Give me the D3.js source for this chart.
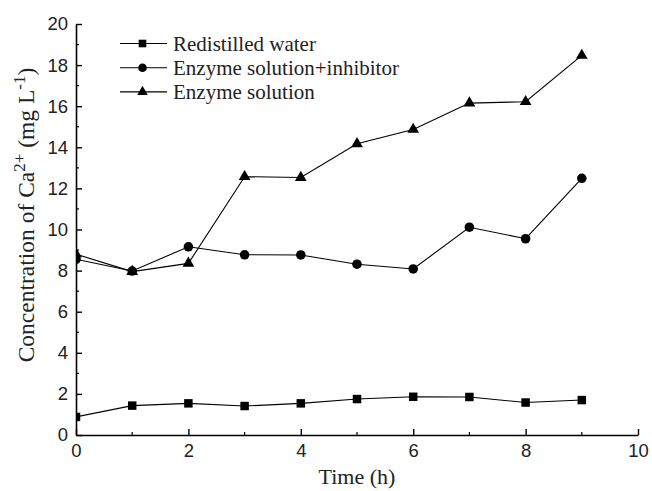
<!DOCTYPE html>
<html><head><meta charset="utf-8">
<script src="https://cdn.jsdelivr.net/npm/d3@7"></script>
<style>body{margin:0;background:#fff}svg{display:block}</style>
</head><body>
<svg id="c" width="652" height="491"></svg>
<script>
const hours = [0,1,2,3,4,5,6,7,8,9];
const water = [0.88,1.43,1.54,1.41,1.54,1.75,1.86,1.85,1.58,1.70];
const inhibitor = [8.55,7.98,9.16,8.77,8.76,8.31,8.08,10.11,9.55,12.49];
const enzyme = [8.8,7.95,8.35,12.57,12.53,14.17,14.87,16.15,16.22,18.47];
const seriesNames = ["Redistilled water","Enzyme solution+inhibitor","Enzyme solution"];
const xTicks = [0,2,4,6,8,10];
const yTicks = [0,2,4,6,8,10,12,14,16,18,20];

const svg = d3.select("#c");
const x = d3.scaleLinear().domain([0,10]).range([76,638]);
const y = d3.scaleLinear().domain([0,20]).range([435,24]);

const series = [
  {name: seriesNames[0], vals: water, sym: d3.symbolSquare, size: 72},
  {name: seriesNames[1], vals: inhibitor, sym: d3.symbolCircle, size: 72},
  {name: seriesNames[2], vals: enzyme, sym: d3.symbolTriangle, size: 60}
];

svg.append("defs").append("clipPath").attr("id","clip")
  .append("rect").attr("x",76).attr("y",0).attr("width",600).attr("height",436);

const plot = svg.append("g").attr("clip-path","url(#clip)");
const line = d3.line().x((d,i)=>x(hours[i])).y(d=>y(d));
series.forEach(s=>{
  plot.append("path").datum(s.vals).attr("d",line)
    .attr("fill","none").attr("stroke","#000").attr("stroke-width",1.1);
  plot.selectAll(null).data(s.vals).enter().append("path")
    .attr("d", d3.symbol().type(s.sym).size(s.size))
    .attr("transform",(d,i)=>`translate(${x(hours[i])},${y(d)})`)
    .attr("fill","#000");
});

// axes
const xAxis = d3.axisBottom(x).tickValues(xTicks).tickSizeInner(-6).tickSizeOuter(0).tickPadding(9);
const gx = svg.append("g").attr("transform","translate(0,435)").call(xAxis);
const yAxis = d3.axisLeft(y).tickValues(yTicks).tickSizeInner(-6).tickSizeOuter(0).tickPadding(8);
const gy = svg.append("g").attr("transform","translate(76,0)").call(yAxis);
[gx,gy].forEach(g=>{
  g.select(".domain").attr("stroke","#000").attr("stroke-width",1.6);
  g.selectAll(".tick line").attr("stroke","#000").attr("stroke-width",1.4);
  g.selectAll(".tick text").attr("font-family","Liberation Sans, Arial, sans-serif")
   .attr("font-size",18.5).attr("fill","#222");
});
// minor ticks
const xMinor = d3.range(1,10,2);
gx.selectAll(".minor").data(xMinor).enter().append("line")
  .attr("x1",d=>x(d)).attr("x2",d=>x(d)).attr("y1",0).attr("y2",-3)
  .attr("stroke","#000").attr("stroke-width",1.2);
const yMinor = d3.range(1,20,2);
gy.selectAll(".minor").data(yMinor).enter().append("line")
  .attr("y1",d=>y(d)).attr("y2",d=>y(d)).attr("x1",0).attr("x2",3)
  .attr("stroke","#000").attr("stroke-width",1.2);

// axis titles
svg.append("text").attr("x",357).attr("y",484).attr("text-anchor","middle")
  .attr("font-family","Liberation Serif, Times New Roman, serif").attr("font-size",22)
  .attr("fill","#222").text("Time (h)");
const yt = svg.append("text").attr("transform","translate(34,215) rotate(-90)")
  .attr("text-anchor","middle").attr("fill","#222")
  .attr("font-family","Liberation Serif, Times New Roman, serif").attr("font-size",23.5);
yt.append("tspan").text("Concentration of Ca");
yt.append("tspan").attr("baseline-shift","super").attr("font-size",17).text("2+");
yt.append("tspan").text(" (mg L");
yt.append("tspan").attr("baseline-shift","super").attr("font-size",17).text("-1");
yt.append("tspan").text(")");

// legend
const lg = svg.append("g");
series.forEach((s,i)=>{
  const ly = 43.5 + i*24.2;
  lg.append("line").attr("x1",120).attr("x2",167).attr("y1",ly).attr("y2",ly)
    .attr("stroke","#000").attr("stroke-width",1.1);
  lg.append("path").attr("d",d3.symbol().type(s.sym).size(s.size*0.8))
    .attr("transform",`translate(142.5,${ly})`).attr("fill","#000");
  lg.append("text").attr("x",173).attr("y",ly+7)
    .attr("font-family","Liberation Serif, Times New Roman, serif").attr("font-size",21)
    .attr("fill","#222").text(s.name);
});
</script>
</body></html>
